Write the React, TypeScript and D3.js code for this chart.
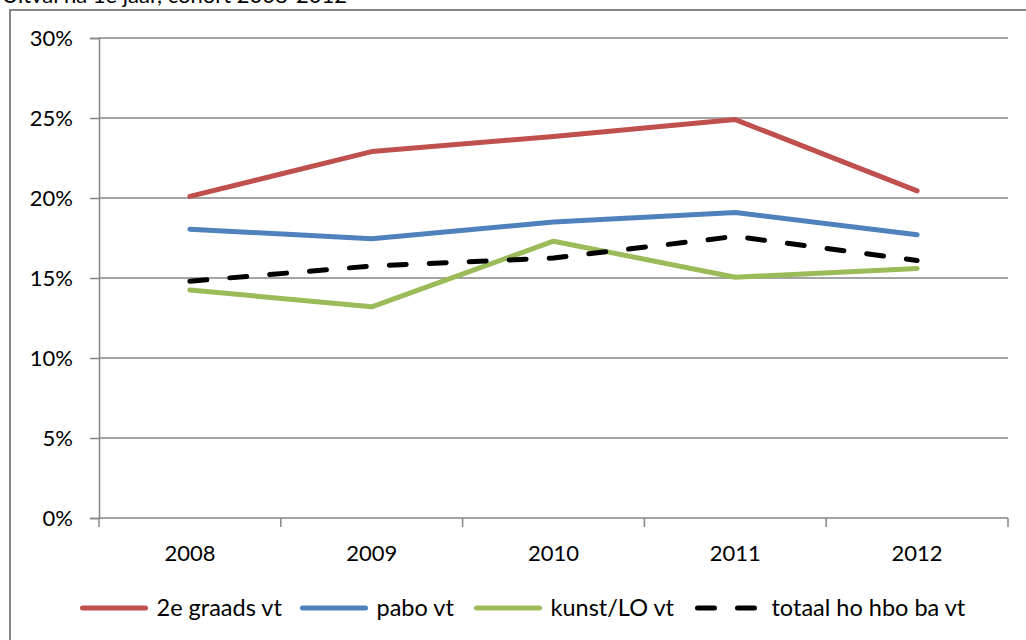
import React, { useEffect, useRef } from "react";
import * as d3 from "d3";

const years = ["2008", "2009", "2010", "2011", "2012"];
const graads2 = [20.1, 22.9, 23.85, 24.9, 20.45];
const pabo = [18.05, 17.45, 18.5, 19.1, 17.7];
const kunstLO = [14.25, 13.2, 17.3, 15.05, 15.6];
const totaal = [14.8, 15.75, 16.25, 17.6, 16.1];
const yTicks = [0, 5, 10, 15, 20, 25, 30];
const seriesNames = ["2e graads vt", "pabo vt", "kunst/LO vt", "totaal ho hbo ba vt"];
const seriesColors = ["#C0504D", "#4F81BD", "#9BBB59", "#000000"];
const titleText = "Uitval na 1e jaar, cohort 2008-2012";

export default function App() {
  const ref = useRef<SVGSVGElement | null>(null);

  useEffect(() => {
    const svg = d3.select(ref.current);
    svg.selectAll("*").remove();
    const W = 1026, H = 640;
    const left = 99, right = 1008, top = 38, bottom = 518;
    const font = "Lato, 'Open Sans', sans-serif";
    const grid = "#868686";

    svg.append("rect").attr("width", W).attr("height", H).attr("fill", "#fff");

    // title, partly above the visible area as in the reference
    svg.append("text").attr("x", 2).attr("y", 3)
      .attr("font-family", font).attr("font-size", 22).attr("fill", "#000")
      .text(titleText);

    // outer chart border
    svg.append("rect").attr("x", 10).attr("y", 10).attr("width", W + 20).attr("height", H + 20)
      .attr("fill", "#fff").attr("stroke", grid).attr("stroke-width", 2);

    const x = d3.scaleBand().domain(years).range([left, right]);
    const y = d3.scaleLinear().domain([0, 30]).range([bottom, top]);

    // gridlines
    svg.append("g").selectAll("line").data(yTicks.filter(t => t > 0)).join("line")
      .attr("x1", left).attr("x2", right)
      .attr("y1", d => y(d)).attr("y2", d => y(d))
      .attr("stroke", grid).attr("stroke-width", 1.5);

    // y axis
    const ya = svg.append("g").attr("transform", `translate(${left},0)`)
      .call(d3.axisLeft(y).tickValues(yTicks).tickSize(9).tickPadding(17).tickFormat(d => `${d}%`));
    ya.select(".domain").attr("stroke", grid).attr("stroke-width", 1.5);
    ya.selectAll(".tick line").attr("stroke", grid).attr("stroke-width", 1.5);
    ya.selectAll("text").attr("font-family", font).attr("font-size", 22).attr("fill", "#000");

    // x axis
    const xa = svg.append("g").attr("transform", `translate(0,${bottom})`)
      .call(d3.axisBottom(x).tickSize(0).tickPadding(27));
    xa.select(".domain").remove();
    xa.selectAll("text").attr("font-family", font).attr("font-size", 22).attr("fill", "#000");
    const bounds = years.map(yv => x(yv) as number).concat([right]);
    xa.selectAll("line.bt").data(bounds).join("line").attr("class", "bt")
      .attr("x1", d => d).attr("x2", d => d).attr("y1", 0).attr("y2", 9)
      .attr("stroke", grid).attr("stroke-width", 1.5);
    xa.append("line").attr("x1", left).attr("x2", right).attr("y1", 0).attr("y2", 0)
      .attr("stroke", grid).attr("stroke-width", 1.5);

    const all = [graads2, pabo, kunstLO, totaal];
    const line = d3.line<number>()
      .x((_, i) => (x(years[i]) as number) + x.bandwidth() / 2)
      .y(d => y(d));

    all.forEach((vals, i) => {
      svg.append("path").attr("d", line(vals) as string)
        .attr("fill", "none").attr("stroke", seriesColors[i])
        .attr("stroke-width", 5).attr("stroke-linejoin", "round")
        .attr("stroke-linecap", "round")
        .attr("stroke-dasharray", i === 3 ? "17 23" : null);
    });

    // legend
    const ly = 608;
    const legendStarts = [82.5, 302.5, 476.5, 697.5];
    seriesNames.forEach((name, i) => {
      const cx = legendStarts[i];
      const len = i === 3 ? 57 : 63;
      const gap = i === 3 ? 17 : 11;
      svg.append("line").attr("x1", cx).attr("x2", cx + len).attr("y1", ly).attr("y2", ly)
        .attr("stroke", seriesColors[i]).attr("stroke-width", 5)
        .attr("stroke-linecap", "round")
        .attr("stroke-dasharray", i === 3 ? "17 23" : null);
      svg.append("text").attr("x", cx + len + gap).attr("y", ly + 8)
        .attr("font-family", font).attr("font-size", 23.5).attr("fill", "#000").text(name);
    });
  }, []);

  return (
    <svg ref={ref} width={1026} height={640}
      style={{ position: "absolute", left: 0, top: 0, display: "block" }} />
  );
}
